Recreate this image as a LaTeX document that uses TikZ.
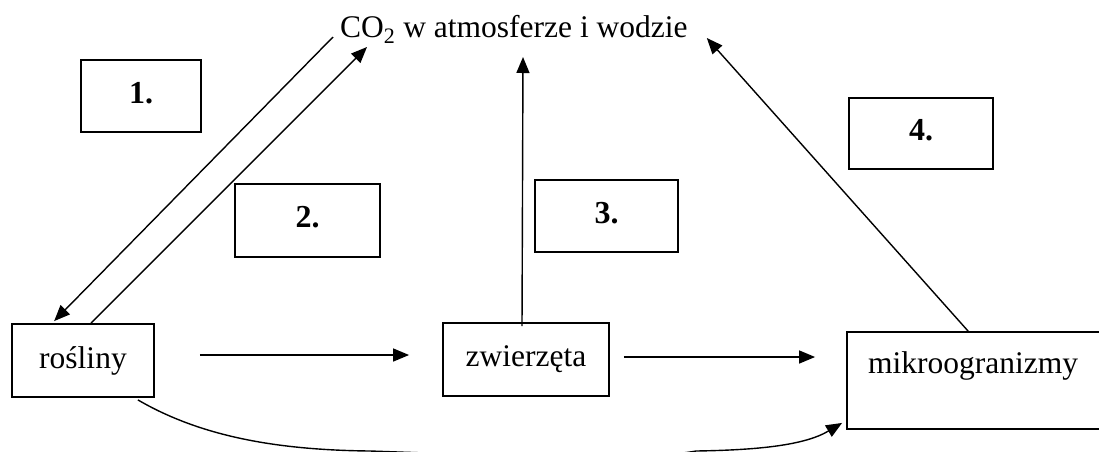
\documentclass[tikz,border=0pt]{standalone}
\usepackage{fontspec}
\setmainfont{Liberation Serif}
\usetikzlibrary{arrows.meta}
\begin{document}
\begin{tikzpicture}[x=1pt,y=-1pt,
  txt/.style={font=\fontsize{31.5}{36}\selectfont, inner sep=0pt},
  box/.style={draw, line width=1.8pt, inner sep=0pt, font=\fontsize{31.5}{36}\selectfont},
  numbox/.style={box, font=\fontsize{32}{36}\selectfont\bfseries, text depth=7pt},
  arr/.style={line width=1.4pt, -{Triangle[length=16pt,width=13pt]}}]
\useasboundingbox (0,0) rectangle (1099,451);
\clip (0,0) rectangle (1099,451);

% numbered boxes
\node[numbox, minimum width=120pt, minimum height=72pt] (b1) at (141,96) {1.};
\node[numbox, minimum width=145pt, minimum height=73pt] (b2) at (307.5,220.5) {2.};
\node[numbox, minimum width=143pt, minimum height=72pt] (b3) at (606.5,216) {3.};
\node[numbox, minimum width=144pt, minimum height=71pt] (b4) at (921,133.5) {4.};

% main nodes
\node[txt, anchor=base west] (co2) at (340,37) {CO\textsubscript{2} w atmosferze i wodzie};
\node[box, minimum width=142pt, minimum height=73pt] (rosliny) at (83,360.5) {rośliny\hspace{16pt}};
\node[box, minimum width=166pt, minimum height=73pt] (zwierzeta) at (526,359.5) {zwierzęta};
\node[box, minimum width=270pt, minimum height=97pt] (mikro) at (982,380.5) {};
\node[txt, anchor=base west] (mikrotxt) at (868,373) {mikroogranizmy};

% connectors
\draw[arr] ([xshift=-7pt]co2.base west) -- ([xshift=43pt,yshift=2pt]rosliny.north west);
\draw[arr] ([xshift=80pt]rosliny.north west) -- ([xshift=27pt,yshift=-10pt]co2.base west);
\draw[arr] ([xshift=45pt,yshift=5.5pt]rosliny.east) -- ([xshift=-33pt,yshift=4.5pt]zwierzeta.west);
\draw[arr] ([xshift=14pt,yshift=2.5pt]zwierzeta.east) -- ([xshift=-31pt,yshift=23.5pt]mikro.west);
\draw[arr] ([xshift=-4pt,yshift=-4pt]zwierzeta.north) -- ([xshift=183pt,yshift=-20pt]co2.base west);
\draw[arr] ([xshift=122pt]mikro.north west) -- ([xshift=19pt,yshift=-1pt]co2.base east);
\draw[arr] ([xshift=-17pt,yshift=-2pt]rosliny.south east)
  .. controls (200,436) and (275,450) .. (370,451)
  .. controls (430,453) and (640,462) .. (696,451)
  .. controls (760,450) and (805,445) .. ([xshift=-4pt,yshift=7pt]mikro.south west);
\end{tikzpicture}
\end{document}
